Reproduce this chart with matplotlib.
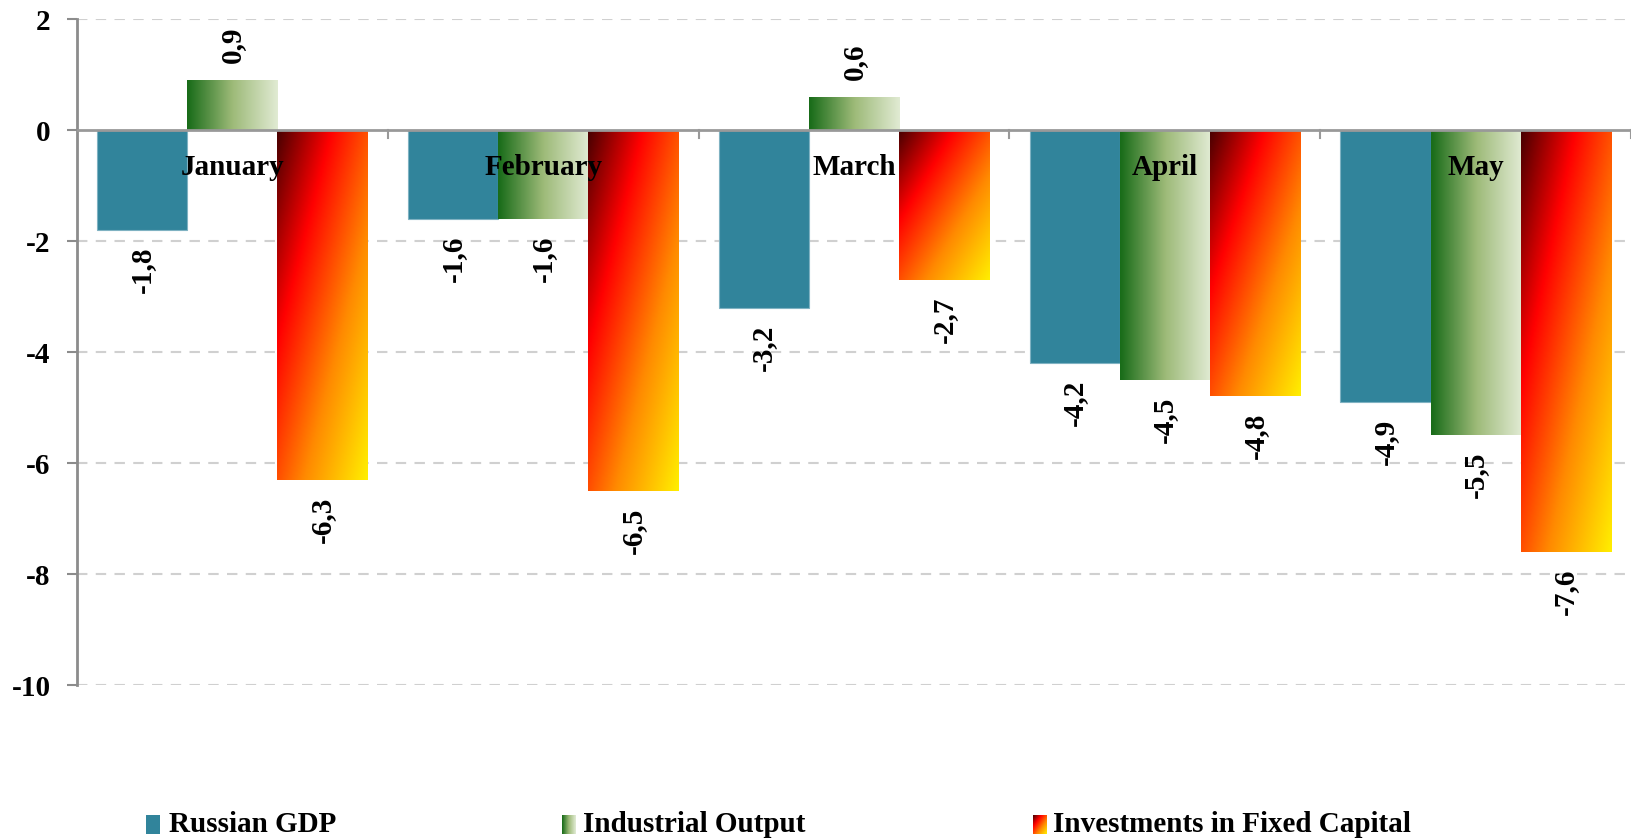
import numpy as np
import matplotlib
matplotlib.use("Agg")
import matplotlib.pyplot as plt
from matplotlib.colors import LinearSegmentedColormap

months = ["January", "February", "March", "April", "May"]
series_names = ["Russian GDP", "Industrial Output", "Investments in Fixed Capital"]
gdp = [-1.8, -1.6, -3.2, -4.2, -4.9]
industrial = [0.9, -1.6, 0.6, -4.5, -5.5]
investments = [-6.3, -6.5, -2.7, -4.8, -7.6]
yticks = [2, 0, -2, -4, -6, -8, -10]

FONT = "Liberation Serif"
FS = 21
plt.rcParams["font.family"] = [FONT, "DejaVu Serif"]
plt.rcParams["font.weight"] = "bold"

gdp_color = "#31849b"
green_cmap = LinearSegmentedColormap.from_list(
    "g", [(0, "#196c19"), (0.5, "#9dba78"), (1, "#e0ead2")])
red_cmap = LinearSegmentedColormap.from_list(
    "r", [(0, "#4a0000"), (0.3, "#ff0000"), (0.65, "#ff8a00"), (1, "#ffee00")])

def grad_img(kind, n=200, m=60):
    u = np.linspace(0, 1, m)[None, :]
    v = np.linspace(0, 1, n)[:, None]
    if kind == "green":
        t = np.repeat(u, n, axis=0)
        return green_cmap(t)
    t = (u + v) / 2.0
    return red_cmap(t)

fig = plt.figure(figsize=(16.37, 8.38), dpi=100)
ax = fig.add_axes([77 / 1637, 1 - 685 / 838, (1631 - 77) / 1637, (685 - 19) / 838])

x = np.arange(len(months))
w = 0.29

ax.set_xlim(-0.5, len(months) - 0.5)
ax.set_ylim(-10, 2)

# gridlines
for yt in yticks:
    if yt != 0:
        ax.axhline(yt, color="#d0d0d0", lw=1.5, ls=(0, (5, 4)), zorder=0)

b1 = ax.bar(x - w, gdp, w, color=gdp_color, edgecolor="#7fb2c2", lw=0.8, zorder=2)
b2 = ax.bar(x, industrial, w, color="none", lw=0, zorder=2)
b3 = ax.bar(x + w, investments, w, color="none", lw=0, zorder=2)

for bars, kind in ((b2, "green"), (b3, "red")):
    for r in bars:
        x0 = r.get_x()
        x1 = x0 + r.get_width()
        y0 = r.get_y()
        y1 = y0 + r.get_height()
        top, bot = max(y0, y1), min(y0, y1)
        im = ax.imshow(grad_img(kind), extent=[x0, x1, bot, top], origin="upper",
                       aspect="auto", interpolation="bilinear", zorder=2)
        im.set_clip_path(r)

ax.set_xlim(-0.5, len(months) - 0.5)
ax.set_ylim(-10, 2)

# zero line
ax.axhline(0, color="#999999", lw=2, zorder=3)
# group ticks below zero line
for b in np.arange(0.5, len(months) - 0.5, 1.0):
    ax.plot([b, b], [0, -0.14], color="#999999", lw=1.5, zorder=3, clip_on=False)
ax.plot([len(months) - 0.5] * 2, [0, -0.14], color="#999999", lw=1.5, zorder=3)

# value labels
for bars, vals in ((b1, gdp), (b2, industrial), (b3, investments)):
    for r, v in zip(bars, vals):
        cx = r.get_x() + r.get_width() / 2
        lbl = f"{v:.1f}".replace(".", ",")
        off = 12 if v >= 0 else -12
        ax.annotate(lbl, (cx, v), xytext=(0, off), textcoords="offset points",
                    rotation=90, ha="center", va="bottom" if v >= 0 else "top",
                    fontsize=FS, fontweight="bold", color="black", zorder=5)

# category labels
for xi, m in zip(x, months):
    ax.text(xi, -0.68, m, ha="center", va="center", fontsize=FS,
            fontweight="bold", color="black", zorder=6)

# axes styling
for s in ("top", "right", "bottom"):
    ax.spines[s].set_visible(False)
ax.spines["left"].set_color("#8c8c8c")
ax.spines["left"].set_linewidth(2)
ax.set_xticks([])
ax.set_yticks(yticks)
ax.set_yticklabels([str(t) for t in yticks], fontsize=FS, fontweight="bold")
ax.tick_params(axis="y", length=7, width=1.5, color="#8c8c8c", pad=12)

# legend
W, H = 1637.0, 838.0
sw_w, sw_h = 14, 19
legend_items = [
    (146, 169, "solid"),
    (562, 583, "green"),
    (1033, 1053, "red"),
]
cy = 824
for (sx, tx, kind), name in zip(legend_items, series_names):
    lax = fig.add_axes([sx / W, 1 - (cy + sw_h / 2) / H, sw_w / W, sw_h / H])
    lax.set_axis_off()
    if kind == "solid":
        lax.add_patch(plt.Rectangle((0, 0), 1, 1, color=gdp_color, transform=lax.transAxes))
    else:
        lax.imshow(grad_img(kind, 40, 20), extent=[0, 1, 0, 1], aspect="auto",
                   interpolation="bilinear")
        lax.set_xlim(0, 1)
        lax.set_ylim(0, 1)
    fig.text(tx / W, 1 - cy / H, name, ha="left", va="center", fontsize=FS,
             fontweight="bold", color="black")

fig.savefig("out.png", dpi=100)
